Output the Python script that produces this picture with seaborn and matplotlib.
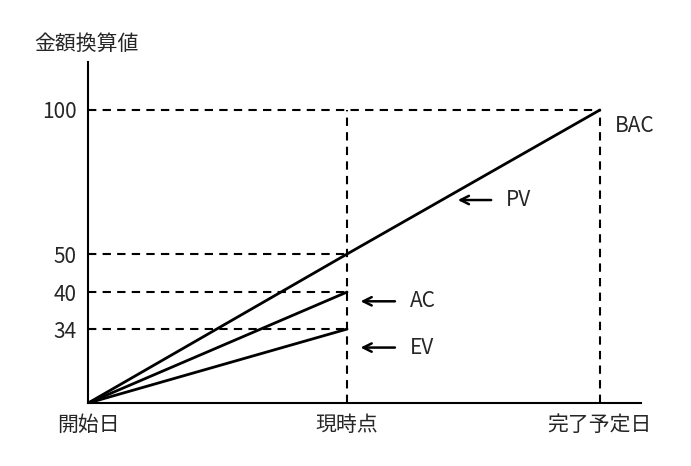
import matplotlib
matplotlib.use("Agg")
import matplotlib.pyplot as plt
import seaborn as sns
import pandas as pd
import numpy as np

x_labels = ["開始日", "現時点", "完了予定日"]
x_pos = [0, 50.6, 100]
pv = [0, 50, 100]
ac = [0, 40]
ev = [0, 34]
y_ticks = [34, 40, 50, 100]

# schematic (non-linear) vertical scale as drawn in the reference
_v = np.array([0, 34, 40, 50, 100, 140])
_p = np.array([0, 74, 111, 149, 293, 408.2])
def fwd(y):
    return np.interp(y, _v, _p)
def inv(p):
    return np.interp(p, _p, _v)

sns.set_style("white")
plt.rcParams['font.family'] = ['Noto Sans CJK JP', 'DejaVu Sans']

fig = plt.figure(figsize=(6.91, 4.66), dpi=100)
ax = fig.add_axes([0.1274, 0.135, 0.80, 0.732])
ax.set_yscale('function', functions=(fwd, inv))

df = pd.DataFrame({"x": x_pos, "y": pv})
sns.lineplot(data=df, x="x", y="y", ax=ax, color="black", lw=2)
sns.lineplot(x=x_pos[:2], y=ac, ax=ax, color="black", lw=2)
sns.lineplot(x=x_pos[:2], y=ev, ax=ax, color="black", lw=2)

dash = dict(color="black", lw=1.5, ls=(0, (4, 3)))
for v in [34, 40, 50]:
    ax.plot([0, x_pos[1]], [v, v], **dash)
ax.plot([0, 100], [100, 100], **dash)
ax.plot([x_pos[1], x_pos[1]], [0, 100], **dash)
ax.plot([100, 100], [0, 100], **dash)

ax.set_xlim(0, 108)
ax.set_ylim(0, inv(341))
ax.set_xticks(x_pos)
ax.set_xticklabels(x_labels, fontsize=15)
ax.set_yticks(y_ticks)
ax.set_yticklabels([str(v) for v in y_ticks], fontsize=15)
ax.yaxis.set_minor_locator(matplotlib.ticker.NullLocator())
ax.tick_params(length=0, pad=8)
ax.set_xlabel("")
ax.set_ylabel("")
for s in ["top", "right"]:
    ax.spines[s].set_visible(False)
for s in ["left", "bottom"]:
    ax.spines[s].set_color("black")
    ax.spines[s].set_linewidth(1.5)

fig.text(0.05, 0.905, "金額換算値", fontsize=15, va="center")
ax.text(103, inv(277), "BAC", fontsize=15, va="center")

arrow = dict(arrowstyle="-|>,head_length=0.8,head_width=0.35", color="black", lw=1.5, fill=False)
for label, tip, ty, tx in [("PV", 71.7, inv(203), 79.3), ("AC", 52.7, 38.5, 60.5), ("EV", 52.7, 25.5, 60.5)]:
    ax.annotate("", xy=(tip, ty), xytext=(tx, ty),
                arrowprops=dict(arrowstyle="->,head_length=0.6,head_width=0.3", color="black", lw=1.8))
    ax.text(tx + 2.3, ty, label, fontsize=15, va="center")

fig.savefig("out.png", dpi=100)
